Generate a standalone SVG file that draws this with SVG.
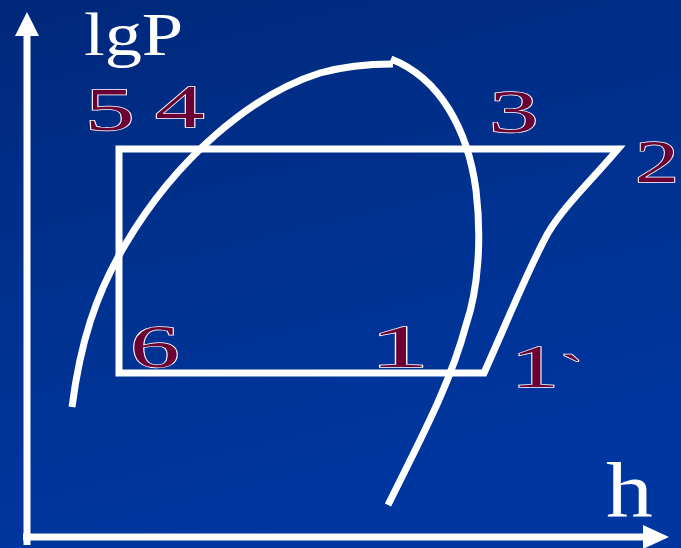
<svg xmlns="http://www.w3.org/2000/svg" width="681" height="548" viewBox="0 0 681 548">
<defs>
<linearGradient id="bg" x1="0" y1="0" x2="0.3" y2="1">
<stop offset="0" stop-color="#00287a"/>
<stop offset="0.5" stop-color="#00318f"/>
<stop offset="1" stop-color="#0036a0"/>
</linearGradient>
</defs>
<style>
.ax{stroke:#fff;stroke-width:7;fill:none}
.ln{stroke:#fff;stroke-width:7;fill:none;stroke-linejoin:miter}
.lbl{font-family:"Liberation Serif","DejaVu Serif",serif;font-size:62px;fill:#6a0033;stroke:#fff;stroke-width:1.4;paint-order:stroke}
.axl{font-family:"Liberation Serif","DejaVu Serif",serif;fill:#fff}
</style>
<rect width="681" height="548" fill="url(#bg)"/>
<g id="axes">
<path class="ax" d="M27,545 V32"/>
<path d="M27,12 L15,36 L39,36 Z" fill="#fff"/>
<path class="ax" d="M23,537 H646"/>
<path d="M669,537 L643,525 L643,549 Z" fill="#fff"/>
<text class="axl" font-size="62" transform="translate(84,55) scale(1.2,1)">lgP</text>
<text class="axl" font-size="78" transform="translate(606,517) scale(1.2,1)">h</text>
</g>
<g id="dome">
<path class="ln" d="M72,407 C80,345 95,295 125,245 C175,160 250,95 320,73 C345,66 370,64 393,64"/>
<path class="ln" d="M391,59 C440,78 468,130 476,190 C482,240 478,290 466,325 C450,385 420,440 388,505"/>
</g>
<g id="cycle">
<path class="ln" d="M119,149 H618 C590,182 565,205 548,233 C530,265 510,315 484,373 H119 Z"/>
</g>
<g id="labels">
<text class="lbl" transform="translate(85,130) scale(1.6,1)">5</text>
<text class="lbl" transform="translate(155,127) scale(1.6,1)">4</text>
<text class="lbl" transform="translate(489,132) scale(1.6,1)">3</text>
<text class="lbl" transform="translate(635,182) scale(1.42,1)">2</text>
<text class="lbl" transform="translate(130,367) scale(1.6,1)">6</text>
<text class="lbl" transform="translate(370,367) scale(1.9,1)">1</text>
<text class="lbl" font-size="54" transform="translate(511,387) scale(1.55,1)"><tspan x="0">1</tspan><tspan x="32" y="-2" font-size="44">`</tspan></text>
</g>
</svg>
